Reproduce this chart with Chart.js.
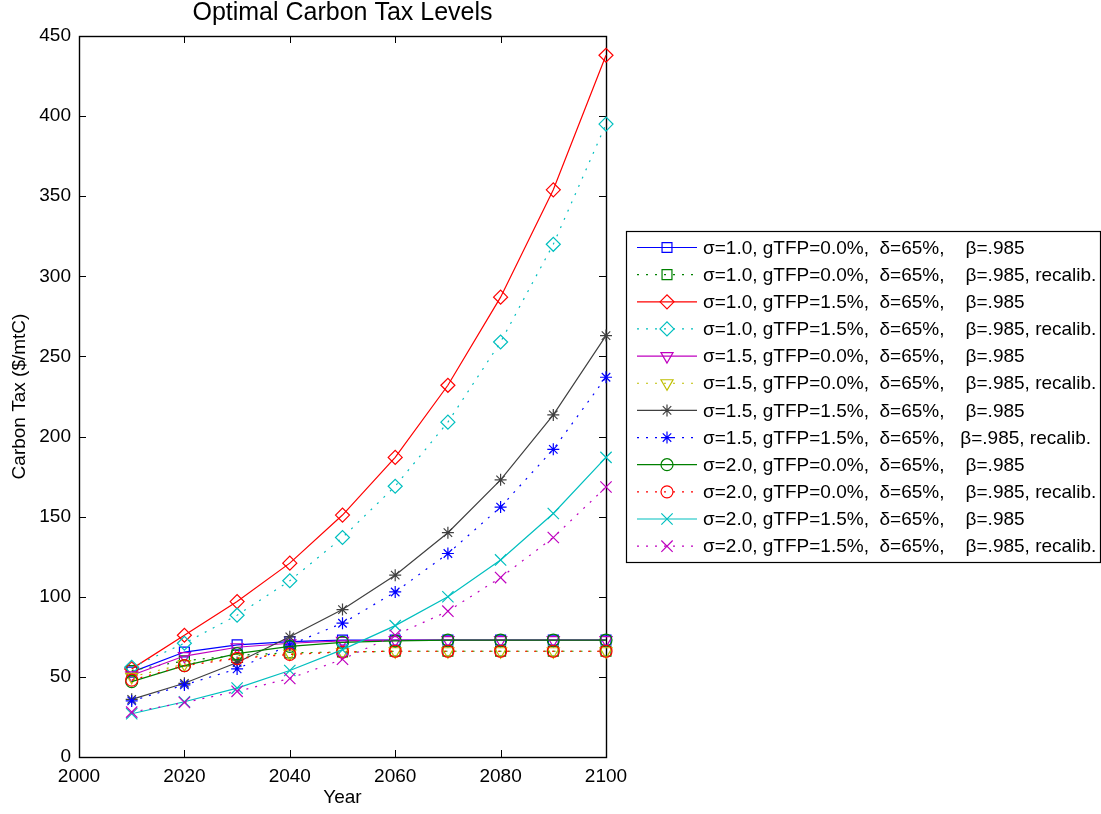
<!DOCTYPE html>
<html><head><meta charset="utf-8">
<script src="https://cdn.jsdelivr.net/npm/chart.js@4.4.1/dist/chart.umd.min.js"></script>
<style>html,body{margin:0;padding:0;background:#fff}#wrap{width:1101px;height:814px;position:relative}canvas{display:block}</style>
</head><body><div id="wrap"><canvas id="c" width="1101" height="814"></canvas></div>
<script>
const years = [2010, 2020, 2030, 2040, 2050, 2060, 2070, 2080, 2090, 2100];

const s10_g00   = [53, 65.5, 70, 72, 73, 73, 73, 73, 73, 73];
const s10_g00_r = [54, 60, 63.5, 65, 65.5, 66, 66, 66, 66, 66];
const s10_g15   = [55, 76, 97, 121, 151, 187, 232, 287, 354, 438];
const s10_g15_r = [56, 71, 88.5, 110, 137, 169, 209, 259, 320, 395];
const s15_g00   = [51, 63, 68.5, 71, 72.5, 73, 73, 73, 73, 73];
const s15_g00_r = [50, 58, 62, 64.5, 65.5, 66, 66, 66, 66, 66];
const s15_g15   = [36, 46, 59, 75, 92, 113.5, 140, 173, 213.5, 263];
const s15_g15_r = [35, 45, 55, 70, 83.5, 103, 127, 156, 192, 237];
const s20_g00   = [47, 57, 64.5, 69, 71.5, 72.5, 73, 73, 73, 73];
const s20_g00_r = [48, 57, 61.5, 64, 65.5, 66, 66, 66, 66, 66];
const s20_g15   = [27, 34.5, 43, 54, 67, 82, 100, 123, 152, 187];
const s20_g15_r = [28, 34, 41, 49, 61, 76, 91, 112, 137, 168.5];

const seriesValues = [s10_g00, s10_g00_r, s10_g15, s10_g15_r, s15_g00, s15_g00_r,
                      s15_g15, s15_g15_r, s20_g00, s20_g00_r, s20_g15, s20_g15_r];

const seriesLabels = [
  'σ=1.0, gTFP=0.0%,  δ=65%,    β=.985',
  'σ=1.0, gTFP=0.0%,  δ=65%,    β=.985, recalib.',
  'σ=1.0, gTFP=1.5%,  δ=65%,    β=.985',
  'σ=1.0, gTFP=1.5%,  δ=65%,    β=.985, recalib.',
  'σ=1.5, gTFP=0.0%,  δ=65%,    β=.985',
  'σ=1.5, gTFP=0.0%,  δ=65%,    β=.985, recalib.',
  'σ=1.5, gTFP=1.5%,  δ=65%,    β=.985',
  'σ=1.5, gTFP=1.5%,  δ=65%,   β=.985, recalib.',
  'σ=2.0, gTFP=0.0%,  δ=65%,    β=.985',
  'σ=2.0, gTFP=0.0%,  δ=65%,    β=.985, recalib.',
  'σ=2.0, gTFP=1.5%,  δ=65%,    β=.985',
  'σ=2.0, gTFP=1.5%,  δ=65%,    β=.985, recalib.'
];
const seriesColors = ['#0000ff', '#008000', '#ff0000', '#00bfbf', '#bf00bf', '#bfbf00',
                      '#404040', '#0000ff', '#008000', '#ff0000', '#00bfbf', '#bf00bf'];
const seriesMarkers = ['rect', 'rect', 'rectRot', 'rectRot', 'triangle', 'triangle',
                       'star', 'star', 'circle', 'circle', 'crossRot', 'crossRot'];
const seriesDotted = [false, true, false, true, false, true, false, true, false, true, false, true];

const xTicks = [2000, 2020, 2040, 2060, 2080, 2100];
const yTicks = [0, 50, 100, 150, 200, 250, 300, 350, 400, 450];

const chartTitle = 'Optimal Carbon Tax Levels';
const xTitle = 'Year';
const yTitle = 'Carbon Tax ($/mtC)';

const FONT = "'Liberation Sans', Arial, Helvetica, sans-serif";
const markerRadius = {rect: 7, rectRot: 7, triangle: 7, star: 6, circle: 6, crossRot: 8};

const datasets = seriesValues.map((vals, i) => ({
  label: seriesLabels[i],
  data: vals.map((v, k) => ({x: years[k], y: v})),
  borderColor: seriesColors[i],
  backgroundColor: 'rgba(0,0,0,0)',
  borderWidth: 1.2,
  borderDash: seriesDotted[i] ? [2, 7] : [],
  pointStyle: seriesMarkers[i],
  pointRadius: markerRadius[seriesMarkers[i]],
  pointHoverRadius: markerRadius[seriesMarkers[i]],
  pointRotation: seriesMarkers[i] === 'triangle' ? 180 : 0,
  pointBorderColor: seriesColors[i],
  pointBackgroundColor: 'rgba(0,0,0,0)',
  pointBorderWidth: 1.2,
  tension: 0,
  fill: false,
  clip: false,
  order: seriesValues.length - i
}));

const framePlugin = {
  id: 'frame',
  beforeDatasetsDraw(chart) {
    const {ctx, chartArea: a, scales} = chart;
    ctx.save();
    ctx.strokeStyle = '#000';
    ctx.lineWidth = 1;
    const tl = 7;
    ctx.beginPath();
    xTicks.forEach(t => {
      const x = Math.round(scales.x.getPixelForValue(t)) + 0.5;
      ctx.moveTo(x, a.bottom); ctx.lineTo(x, a.bottom - tl);
      ctx.moveTo(x, a.top); ctx.lineTo(x, a.top + tl);
    });
    yTicks.forEach(t => {
      const y = Math.round(scales.y.getPixelForValue(t)) + 0.5;
      ctx.moveTo(a.left, y); ctx.lineTo(a.left + tl, y);
      ctx.moveTo(a.right, y); ctx.lineTo(a.right - tl, y);
    });
    ctx.stroke();
    ctx.lineWidth = 1.4;
    ctx.strokeRect(Math.round(a.left) + 0.5, Math.round(a.top) + 0.5,
                   Math.round(a.right - a.left), Math.round(a.bottom - a.top));
    // title centred over the plot area
    ctx.fillStyle = '#000';
    ctx.font = '25px ' + FONT;
    ctx.textAlign = 'center';
    ctx.textBaseline = 'middle';
    ctx.fillText(chartTitle, (a.left + a.right) / 2, 13);
    ctx.restore();
  }
};

const legendPlugin = {
  id: 'boxLegend',
  afterDraw(chart) {
    const {ctx} = chart;
    const bx = 626, by = 231, bw = 474, bh = 331;
    const row0 = 247.5, dy = 27.15;
    ctx.save();
    ctx.fillStyle = '#fff';
    ctx.fillRect(bx, by, bw, bh);
    ctx.strokeStyle = '#000';
    ctx.lineWidth = 1.2;
    ctx.strokeRect(bx + 0.5, by + 0.5, bw, bh);
    chart.data.datasets.forEach((ds, i) => {
      const y = row0 + i * dy;
      ctx.save();
      ctx.strokeStyle = ds.borderColor;
      ctx.lineWidth = ds.borderWidth;
      ctx.setLineDash(ds.borderDash || []);
      ctx.beginPath();
      ctx.moveTo(637, y); ctx.lineTo(697, y);
      ctx.stroke();
      ctx.setLineDash([]);
      ctx.strokeStyle = ds.pointBorderColor;
      ctx.fillStyle = 'rgba(0,0,0,0)';
      ctx.lineWidth = ds.pointBorderWidth;
      Chart.helpers.drawPoint(ctx, {
        pointStyle: ds.pointStyle, radius: ds.pointRadius, rotation: ds.pointRotation,
        borderWidth: ds.pointBorderWidth
      }, 667, y);
      ctx.restore();
      ctx.fillStyle = '#000';
      ctx.font = '19px ' + FONT;
      ctx.textBaseline = 'middle';
      ctx.textAlign = 'left';
      ctx.fillText(ds.label, 703, y + 1);
    });
    ctx.restore();
  }
};

new Chart(document.getElementById('c'), {
  type: 'line',
  data: {datasets},
  plugins: [framePlugin, legendPlugin],
  options: {
    responsive: false,
    devicePixelRatio: 1,
    animation: false,
    events: [],
    layout: {padding: {left: 0, right: 495, top: 36, bottom: 0}},
    plugins: {
      legend: {display: false},
      tooltip: {enabled: false},
      title: {display: false}
    },
    scales: {
      x: {
        type: 'linear', min: 2000, max: 2100,
        afterBuildTicks(scale) { scale.ticks = xTicks.map(v => ({value: v})); },
        afterFit(scale) { scale.height = 57; },
        grid: {display: false, drawTicks: false},
        border: {display: false},
        ticks: {color: '#000', font: {family: FONT, size: 19}, padding: 8, maxRotation: 0,
                callback: v => String(v)},
        title: {display: true, text: xTitle, color: '#000', font: {family: FONT, size: 19},
                padding: {top: 0, bottom: 5}}
      },
      y: {
        type: 'linear', min: 0, max: 450,
        afterBuildTicks(scale) { scale.ticks = yTicks.map(v => ({value: v})); },
        afterFit(scale) { scale.width = 79; },
        grid: {display: false, drawTicks: false},
        border: {display: false},
        ticks: {color: '#000', font: {family: FONT, size: 19}, padding: 8,
                callback: v => String(v)},
        title: {display: true, text: yTitle, color: '#000', font: {family: FONT, size: 19},
                padding: {top: 8, bottom: 0}}
      }
    }
  }
});
</script></body></html>
